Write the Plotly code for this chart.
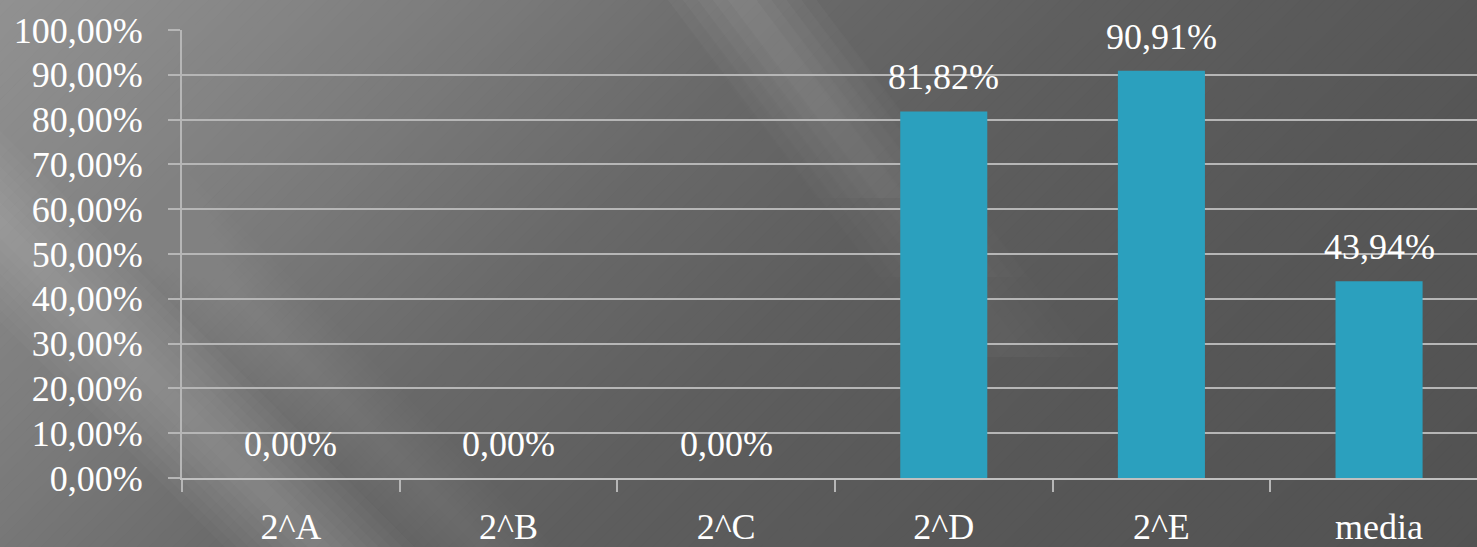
import plotly.graph_objects as go

categories = ["2^A", "2^B", "2^C", "2^D", "2^E", "media"]
values = [0.0, 0.0, 0.0, 0.8182, 0.9091, 0.4394]
y_ticks = [0.0, 0.1, 0.2, 0.3, 0.4, 0.5, 0.6, 0.7, 0.8, 0.9, 1.0]

W, H = 1477, 547
L, T, B = 182, 30, 65
PW, PH = W - L, H - T - B


def px(x):
    return (x - L) / PW


def py(y):
    return (H - B - y) / PH


def lerp(a, b, t):
    return a + (b - a) * t


def poly(points, fill):
    path = "M " + " L ".join(f"{px(x):.5f},{py(y):.5f}" for x, y in points) + " Z"
    return dict(type="path", xref="paper", yref="paper", layer="below",
                path=path, fillcolor=fill, line=dict(width=0))


# background: diagonal gradient (light top-left -> dark bottom-right)
stops = [(-20, 146), (200, 137), (500, 122), (800, 105), (1100, 94), (1500, 87), (2060, 82)]


def gray_at(v):
    for (v0, g0), (v1, g1) in zip(stops[:-1], stops[1:]):
        if v0 <= v <= v1:
            return lerp(g0, g1, (v - v0) / (v1 - v0))
    return stops[-1][1] if v > stops[-1][0] else stops[0][1]


Y0, Y1 = -10, H + 10
shapes = []
step = 12
for v0 in range(-20, W + H + 20, step):
    g = int(round(gray_at(v0 + step / 2)))
    v1 = v0 + step + 1
    shapes.append(poly([(v0 - Y0, Y0), (v1 - Y0, Y0), (v1 - Y1, Y1), (v0 - Y1, Y1)],
                       f"rgb({g},{g},{g})"))


def streak(x_top, x_bot, y_end, half_w, peak, layers=8):
    # soft light band running from (x_top, Y0) to (x_bot, y_end)
    out = []
    for i in range(layers):
        w = half_w * (layers - i) / layers
        out.append(poly([(x_top - w, Y0), (x_top + w, Y0), (x_bot + w, y_end), (x_bot - w, y_end)],
                        f"rgba(255,255,255,{peak / layers:.4f})"))
    return out


# light streaks running top-left -> bottom-right
shapes += streak(-235, 325, Y1, 95, 0.19)
shapes += streak(-60, 490, Y1, 70, 0.05)
for yend in [120, 200, 280, 360]:
    shapes += streak(735, 735 + yend * 0.78, yend, 75, 0.035, layers=5)

font_family = "Liberation Serif, DejaVu Serif, serif"
grid_color = "#B6B6B6"
font_size = 36


def fmt_pct(v):
    return f"{v * 100:.2f}%".replace(".", ",")


fig = go.Figure()
fig.add_trace(go.Bar(
    x=categories, y=values,
    marker=dict(color="#2BA0BE", line=dict(width=0)),
    width=0.4,
    hoverinfo="x+y",
))

annotations = [
    dict(x=c, y=v, xref="x", yref="y", text=fmt_pct(v), showarrow=False,
         yanchor="middle", yshift=34,
         font=dict(family=font_family, size=font_size, color="white"))
    for c, v in zip(categories, values)
]

fig.update_layout(
    width=W, height=H,
    margin=dict(l=L, r=0, t=T, b=B),
    separators=",.",
    paper_bgcolor="#575757",
    plot_bgcolor="rgba(0,0,0,0)",
    showlegend=False,
    shapes=shapes,
    annotations=annotations,
    font=dict(family=font_family, size=font_size, color="white"),
    xaxis=dict(
        range=[-0.5, 5.45],
        showgrid=False,
        showline=True, linecolor="#C0C0C0", linewidth=2,
        ticks="outside", tickson="boundaries", ticklen=12, tickwidth=2, tickcolor=grid_color,
        tickfont=dict(family=font_family, size=font_size, color="white"),
        ticklabelstandoff=16,
    ),
    yaxis=dict(
        range=[0, 1],
        tickvals=y_ticks,
        tickformat=".2%",
        showgrid=True, gridcolor=grid_color, gridwidth=2,
        showline=True, linecolor=grid_color, linewidth=2,
        ticks="outside", ticklen=12, tickwidth=2, tickcolor=grid_color,
        tickfont=dict(family=font_family, size=font_size, color="white"),
        ticklabelstandoff=18,
        zeroline=False,
    ),
)

fig.write_html(
    "out.html",
    config={"displayModeBar": False},
    post_script="document.body.style.margin='0';document.body.style.overflow='hidden';"
                "document.body.style.background='#575757';",
)
